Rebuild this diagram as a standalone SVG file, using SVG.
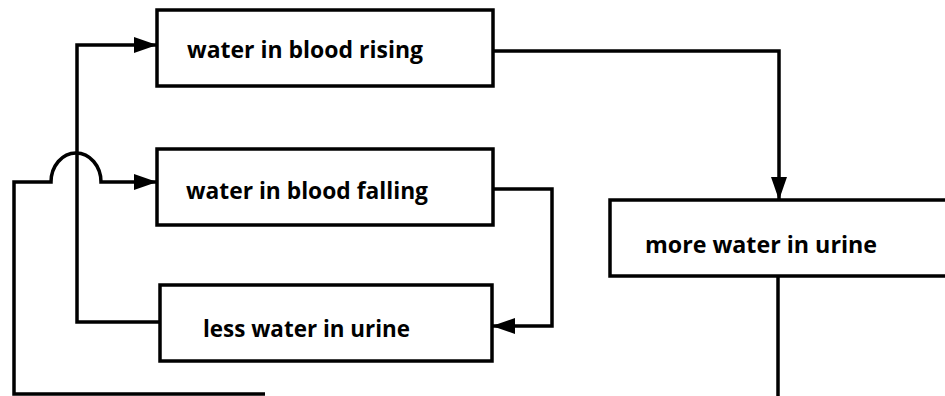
<svg xmlns="http://www.w3.org/2000/svg" width="945" height="396" viewBox="0 0 945 396">
<style>
.box{fill:#fff;stroke:#000;stroke-width:3.5}
.lbl{font-family:"Open Sans","Liberation Sans",sans-serif;font-weight:700;font-size:24px;fill:#000}
.conn path{fill:none;stroke:#000;stroke-width:3.5}
</style>
<defs>
<marker id="ah" markerUnits="userSpaceOnUse" markerWidth="24" markerHeight="16" refX="23" refY="8" orient="auto">
<path d="M0,0 L23,8 L0,16 z" fill="#000"/>
</marker>
</defs>
<rect width="945" height="396" fill="#fff"/>
<g id="rising"><rect class="box" x="157" y="10" width="336" height="76"/><text class="lbl" x="187" y="58" textLength="236" lengthAdjust="spacingAndGlyphs">water in blood rising</text></g>
<g id="falling"><rect class="box" x="157" y="149" width="336" height="76"/><text class="lbl" x="186" y="199" textLength="242" lengthAdjust="spacingAndGlyphs">water in blood falling</text></g>
<g id="less"><rect class="box" x="160" y="285" width="332" height="76"/><text class="lbl" x="203" y="337" textLength="207" lengthAdjust="spacingAndGlyphs">less water in urine</text></g>
<g id="more"><rect class="box" x="610" y="200" width="340" height="76"/><text class="lbl" x="645" y="253" textLength="232" lengthAdjust="spacingAndGlyphs">more water in urine</text></g>
<g class="conn">
<path d="M493,51 H779 V200" marker-end="url(#ah)"/>
<path d="M160,322 H77 V45 H157" marker-end="url(#ah)"/>
<path d="M493,189 H552 V326 H492" marker-end="url(#ah)"/>
<path d="M265,394 H14 V182 H51 A25,29 0 0 1 101,182 H157" marker-end="url(#ah)"/>
<path d="M778,276 V396"/>
</g>
</svg>
